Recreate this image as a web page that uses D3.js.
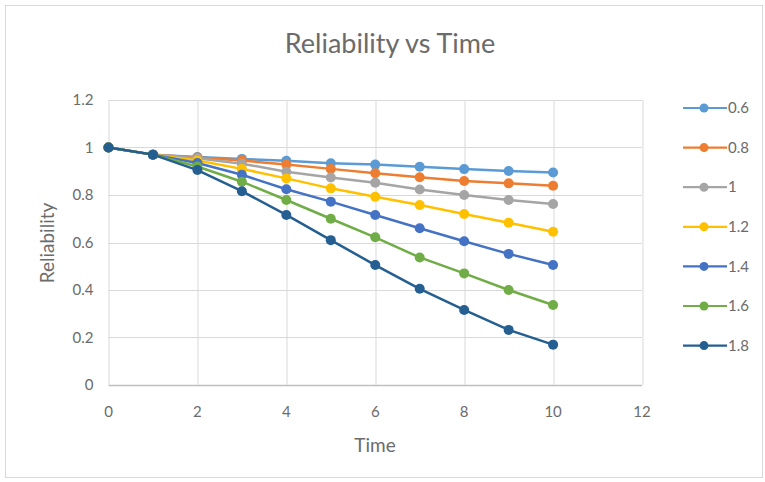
<!DOCTYPE html>
<meta charset="utf-8">
<script src="https://d3js.org/d3.v7.min.js"></script>
<style>
  body { margin: 0; background: #fff; }
  text { font-family: Lato, "Open Sans", sans-serif; fill: #6b6b6b; }
</style>
<body>
<div id="chart"></div>
<script>
// time steps and one reliability series per shape value
var times = [0, 1, 2, 3, 4, 5, 6, 7, 8, 9, 10];
var seriesNames = ["0.6", "0.8", "1", "1.2", "1.4", "1.6", "1.8"];
var s06 = [1, 0.97, 0.96, 0.952, 0.944, 0.934, 0.928, 0.919, 0.909, 0.901, 0.895];
var s08 = [1, 0.97, 0.958, 0.945, 0.928, 0.91, 0.892, 0.875, 0.859, 0.849, 0.839];
var s10 = [1, 0.97, 0.955, 0.932, 0.898, 0.874, 0.852, 0.823, 0.80, 0.779, 0.762];
var s12 = [1, 0.97, 0.945, 0.91, 0.87, 0.828, 0.793, 0.758, 0.72, 0.683, 0.645];
var s14 = [1, 0.97, 0.935, 0.885, 0.824, 0.772, 0.716, 0.66, 0.605, 0.552, 0.505];
var s16 = [1, 0.97, 0.92, 0.856, 0.779, 0.70, 0.622, 0.537, 0.47, 0.40, 0.337];
var s18 = [1, 0.97, 0.905, 0.816, 0.716, 0.61, 0.505, 0.405, 0.316, 0.232, 0.17];
var xTicks = [0, 2, 4, 6, 8, 10, 12];
var yTicks = [0, 0.2, 0.4, 0.6, 0.8, 1, 1.2];

var allSeries = [s06, s08, s10, s12, s14, s16, s18];
var colors = ["#5B9BD5", "#ED7D31", "#A5A5A5", "#FFC000", "#4472C4", "#70AD47", "#255E91"];

var W = 765, H = 482;
var margin = {top: 100, right: 123, bottom: 97, left: 108.5};
var width = W - margin.left - margin.right,
    height = H - margin.top - margin.bottom;

var svg = d3.select("#chart").append("svg")
    .attr("width", W)
    .attr("height", H);

// outer chart frame
svg.append("rect")
    .attr("x", 5.5).attr("y", 5.5)
    .attr("width", 757).attr("height", 472)
    .attr("fill", "none")
    .attr("stroke", "#d9d9d9");

var g = svg.append("g")
    .attr("transform", "translate(" + margin.left + "," + margin.top + ")");

var x = d3.scaleLinear().domain([0, 12]).range([0, width]);
var y = d3.scaleLinear().domain([0, 1.2]).range([height, 0]);

// gridlines
g.selectAll(".hgrid").data(yTicks).enter().append("line")
    .attr("x1", 0).attr("x2", width)
    .attr("y1", function(d) { return Math.round(y(d)) + 0.5; })
    .attr("y2", function(d) { return Math.round(y(d)) + 0.5; })
    .attr("stroke", function(d) { return d === 0 ? "#bfbfbf" : "#d9d9d9"; })
    .attr("stroke-width", function(d) { return d === 0 ? 1.5 : 1; });

g.selectAll(".vgrid").data(xTicks).enter().append("line")
    .attr("y1", 0).attr("y2", height)
    .attr("x1", function(d) { return Math.round(x(d)) + 0.5; })
    .attr("x2", function(d) { return Math.round(x(d)) + 0.5; })
    .attr("stroke", "#d9d9d9");

// tick labels
g.selectAll(".ylab").data(yTicks).enter().append("text")
    .attr("x", -15)
    .attr("y", function(d) { return y(d); })
    .attr("dy", "0.35em")
    .attr("text-anchor", "end")
    .style("font-size", "15px")
    .text(function(d) { return d; });

g.selectAll(".xlab").data(xTicks).enter().append("text")
    .attr("x", function(d) { return x(d); })
    .attr("y", height + 27)
    .attr("dy", "0.35em")
    .attr("text-anchor", "middle")
    .style("font-size", "15px")
    .text(function(d) { return d; });

// titles
svg.append("text")
    .attr("x", 390).attr("y", 53)
    .attr("text-anchor", "middle")
    .style("font-size", "27px")
    .text("Reliability vs Time");

svg.append("text")
    .attr("x", 375).attr("y", 452)
    .attr("text-anchor", "middle")
    .style("font-size", "19px")
    .text("Time");

svg.append("text")
    .attr("transform", "translate(54,243) rotate(-90)")
    .attr("text-anchor", "middle")
    .style("font-size", "19px")
    .text("Reliability");

// series lines and markers
var line = d3.line()
    .x(function(d, i) { return x(times[i]); })
    .y(function(d) { return y(d); });

allSeries.forEach(function(vals, k) {
    g.append("path")
        .datum(vals)
        .attr("d", line)
        .attr("fill", "none")
        .attr("stroke", colors[k])
        .attr("stroke-width", 2.5);

    g.selectAll(".dot" + k).data(vals).enter().append("circle")
        .attr("cx", function(d, i) { return x(times[i]); })
        .attr("cy", function(d) { return y(d); })
        .attr("r", 5)
        .attr("fill", colors[k]);
});

// legend
var legend = svg.append("g");
seriesNames.forEach(function(name, k) {
    var ly = 108 + k * 39.6;
    legend.append("line")
        .attr("x1", 683).attr("x2", 727)
        .attr("y1", ly).attr("y2", ly)
        .attr("stroke", colors[k])
        .attr("stroke-width", 2.2);
    legend.append("circle")
        .attr("cx", 704).attr("cy", ly).attr("r", 4.5)
        .attr("fill", colors[k]);
    legend.append("text")
        .attr("x", 728).attr("y", ly)
        .attr("dy", "0.35em")
        .style("font-size", "15px")
        .text(name);
});
</script>
</body>
